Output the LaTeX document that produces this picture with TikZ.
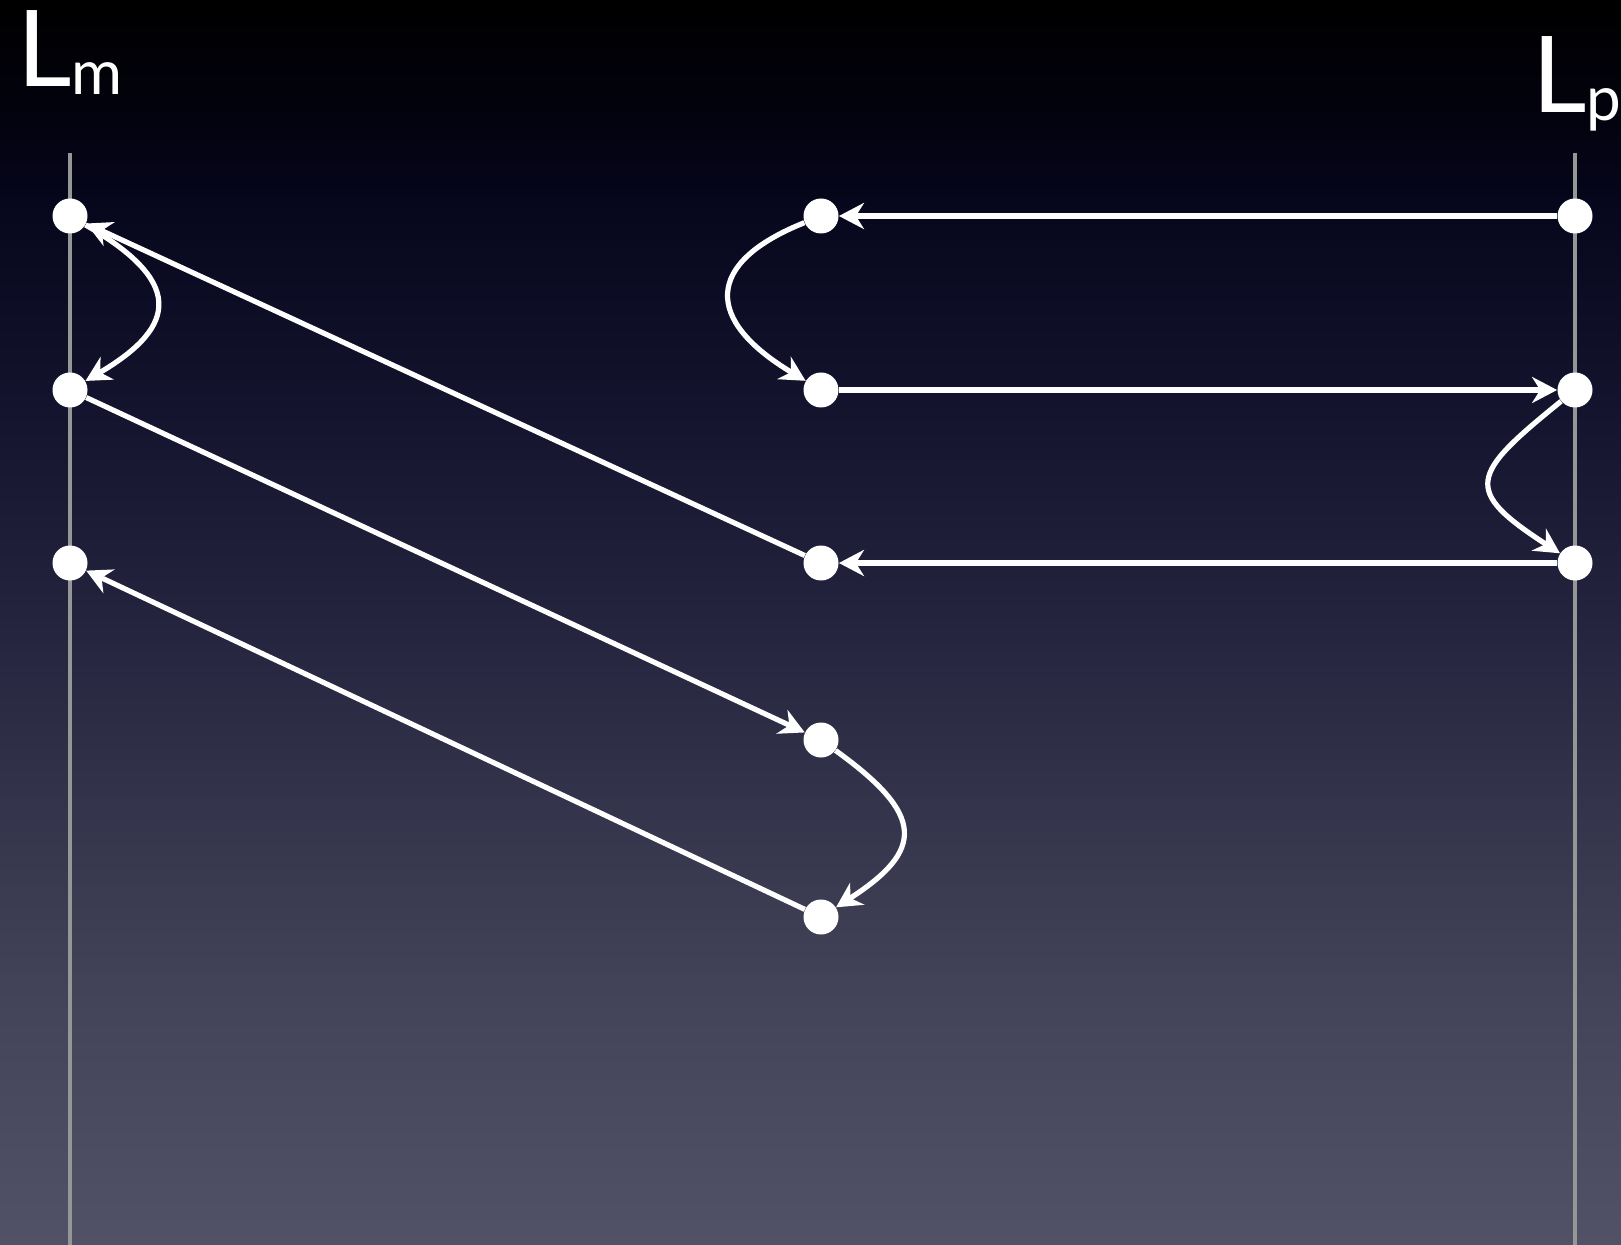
\documentclass[tikz,border=0pt]{standalone}
\usepackage{fontspec}
\setmainfont{Lato}
\usetikzlibrary{arrows.meta}
\definecolor{g0}{RGB}{0,0,0}
\definecolor{g1}{RGB}{2,2,12}
\definecolor{g2}{RGB}{6,6,28}
\definecolor{g3}{RGB}{19,19,45}
\definecolor{g4}{RGB}{35,34,61}
\definecolor{g5}{RGB}{51,51,75}
\definecolor{g6}{RGB}{67,67,89}
\definecolor{g7}{RGB}{82,82,103}
\definecolor{lifeline}{RGB}{150,150,150}
\tikzset{
  dot/.style={circle,fill=white,draw=none,minimum size=17.5pt,inner sep=0pt},
  msg/.style={draw=white,line width=2.6pt,-{Stealth[length=12.5pt,width=13pt,inset=4pt]}},
  life/.style={draw=lifeline,line width=2.25pt},
  lbl/.style={text=white,anchor=base west,inner sep=0pt,font=\fontsize{53}{53}\selectfont}
}
\newcommand{\subm}[1]{\raisebox{-4pt}{\fontsize{31}{31}\selectfont #1}}
\begin{document}
\begin{tikzpicture}[x=0.5pt,y=0.5pt]
\useasboundingbox (0,0) rectangle (1621,-1245);
% background gradient
\shade[top color=g0,bottom color=g1] (0,0) rectangle (1621,-101);
\shade[top color=g1,bottom color=g2] (0,-100) rectangle (1621,-201);
\shade[top color=g2,bottom color=g3] (0,-200) rectangle (1621,-401);
\shade[top color=g3,bottom color=g4] (0,-400) rectangle (1621,-601);
\shade[top color=g4,bottom color=g5] (0,-600) rectangle (1621,-801);
\shade[top color=g5,bottom color=g6] (0,-800) rectangle (1621,-1001);
\shade[top color=g6,bottom color=g7] (0,-1000) rectangle (1621,-1245);
% lifelines
\coordinate (lt) at (70,-153);
\coordinate (lb) at (70,-1245);
\coordinate (rt) at (1575,-153);
\coordinate (rb) at (1575,-1245);
\draw[life] (lt) -- (lb);
\draw[life] (rt) -- (rb);
% labels
\node[lbl] (lm) at (17,-87) {L\subm{m}};
\node[lbl] (lp) at (1532,-113) {L\subm{p}};
% dots
\node[dot] (L1) at (70,-216) {};
\node[dot] (L2) at (70,-390) {};
\node[dot] (L3) at (70,-563) {};
\node[dot] (M1) at (821,-216) {};
\node[dot] (M2) at (821,-390) {};
\node[dot] (M3) at (821,-563) {};
\node[dot] (M4) at (821,-740) {};
\node[dot] (M5) at (821,-917) {};
\node[dot] (R1) at (1575,-216) {};
\node[dot] (R2) at (1575,-390) {};
\node[dot] (R3) at (1575,-563) {};
% messages
\draw[msg] (R1) -- (M1);
\draw[msg] (M1) .. controls (704,-263) and (704,-320) .. (M2);
\draw[msg] (M2) -- (R2);
\draw[msg] (R2) .. controls (1470,-475) and (1462,-490) .. (R3);
\draw[msg] (R3) -- (M3);
\draw[msg] (M3) -- (L1);
\draw[msg] (L1) .. controls (181,-280) and (181,-325) .. (L2);
\draw[msg] (L2) -- (M4);
\draw[msg] (M4) .. controls (925,-815) and (925,-850) .. (M5);
\draw[msg] (M5) -- (L3);
\end{tikzpicture}
\end{document}
